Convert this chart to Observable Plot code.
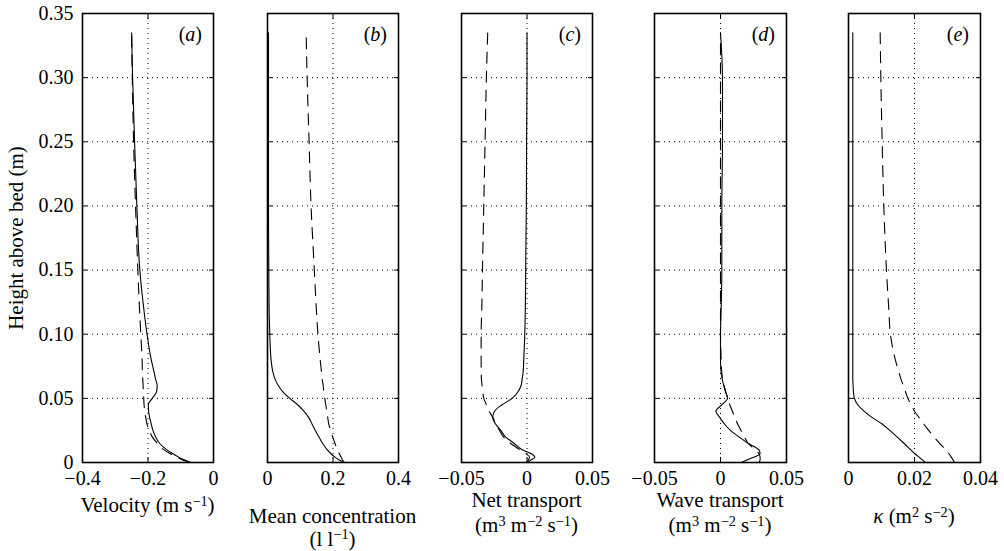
<!DOCTYPE html>
<html>
<head>
<meta charset="utf-8">
<script src="https://cdn.jsdelivr.net/npm/d3@7"></script>
<script src="https://cdn.jsdelivr.net/npm/@observablehq/plot@0.6"></script>
<style>
  html, body { margin: 0; padding: 0; background: #fff; overflow: hidden; }
  #fig { position: relative; width: 1004px; height: 551px; color: #000; }
  #fig, #fig * { font-family: "Liberation Serif", "Times New Roman", serif !important; }
  #fig svg { position: absolute; top: 0; }
  .lab { position: absolute; font-size: 21px; line-height: 21px; white-space: nowrap; }
  .sup { font-size: 0.68em; position: relative; top: -0.48em; }
</style>
</head>
<body>
<div id="fig"></div>
<script>
// Height above bed (m), shared by every profile
const height = [0, 0.002, 0.004, 0.007, 0.01, 0.015, 0.02, 0.025, 0.03, 0.035, 0.04, 0.045, 0.05,
                0.055, 0.06, 0.065, 0.07, 0.08, 0.10, 0.12, 0.15, 0.20, 0.25, 0.30, 0.335];

// (a) velocity (m/s)
const velocitySolid  = [-0.070, -0.088, -0.105, -0.125, -0.143, -0.165, -0.177, -0.185, -0.190, -0.195, -0.198, -0.199, -0.187,
                        -0.174, -0.172, -0.177, -0.181, -0.190, -0.203, -0.213, -0.225, -0.234, -0.241, -0.247, -0.250];
const velocityDashed = [-0.075, -0.094, -0.112, -0.133, -0.152, -0.172, -0.187, -0.196, -0.203, -0.207, -0.210, -0.212, -0.213,
                        -0.214, -0.215, -0.216, -0.217, -0.218, -0.222, -0.226, -0.231, -0.238, -0.244, -0.248, -0.250];
// (b) mean concentration (l/l)
const concSolid  = [0.233, 0.219, 0.207, 0.193, 0.182, 0.168, 0.157, 0.146, 0.136, 0.126, 0.111, 0.092, 0.068,
                    0.047, 0.033, 0.023, 0.017, 0.011, 0.007, 0.005, 0.004, 0.003, 0.003, 0.003, 0.003];
const concDashed = [0.235, 0.229, 0.225, 0.219, 0.213, 0.206, 0.199, 0.193, 0.187, 0.184, 0.181, 0.178, 0.175,
                    0.172, 0.170, 0.167, 0.165, 0.161, 0.154, 0.149, 0.143, 0.133, 0.127, 0.121, 0.118];
// (c) net transport
const netSolid  = [0.0005, 0.003, 0.006, 0.003, -0.0037, -0.010, -0.0164, -0.020, -0.024, -0.0262, -0.0248, -0.019, -0.0113,
                   -0.007, -0.0045, -0.0037, -0.003, -0.0025, -0.0017, -0.0013, -0.001, -0.0005, -0.0003, 0, 0];
const netDashed = [0, 0.001, 0.002, -0.001, -0.0055, -0.0126, -0.018, -0.021, -0.024, -0.026, -0.029, -0.031, -0.033,
                   -0.0337, -0.0343, -0.0348, -0.035, -0.035, -0.035, -0.0345, -0.034, -0.033, -0.032, -0.031, -0.030];
// (d) wave transport
const waveSolid  = [0.016, 0.020, 0.025, 0.030, 0.029, 0.0208, 0.014, 0.0075, 0.003, -0.0005, -0.0035, 0.001, 0.0053,
                    0.0038, 0.0025, 0.0013, 0.0005, 0, 0, 0.0005, 0.001, 0.001, 0.0015, 0.0015, 0];
const waveDashed = [0.029, 0.030, 0.030, 0.029, 0.026, 0.021, 0.018, 0.0155, 0.013, 0.011, 0.009, 0.007, 0.0055,
                    0.004, 0.0027, 0.0015, 0.001, 0.0005, 0, 0, 0, 0, 0, 0, 0];
// (e) kappa (m^2/s^2)
const kappaSolid  = [0.0233, 0.0224, 0.0215, 0.020, 0.0188, 0.0168, 0.0147, 0.0125, 0.0102, 0.0072, 0.0047, 0.0028, 0.0018,
                     0.0015, 0.0014, 0.0013, 0.0013, 0.0013, 0.0013, 0.0013, 0.0013, 0.0013, 0.0013, 0.0013, 0.0013];
const kappaDashed = [0.0321, 0.0317, 0.0312, 0.0304, 0.0294, 0.0276, 0.0259, 0.0243, 0.0228, 0.0214, 0.020, 0.019, 0.018,
                     0.0173, 0.0166, 0.0159, 0.0153, 0.0142, 0.0127, 0.0122, 0.0115, 0.0107, 0.0102, 0.0098, 0.0096];

// Tick values
const heightTicks   = [0, 0.05, 0.10, 0.15, 0.20, 0.25, 0.30, 0.35];
const velocityTicks = [-0.4, -0.2, 0];
const concTicks     = [0, 0.2, 0.4];
const netTicks      = [-0.05, 0, 0.05];
const waveTicks     = [-0.05, 0, 0.05];
const kappaTicks    = [0, 0.02, 0.04];

const panelLetters = ["a", "b", "c", "d", "e"];

const FONT = '"Liberation Serif", "Times New Roman", serif';
const fmtY = d => d === 0 ? "0" : d.toFixed(2);
const fmtX = d => d === 0 ? "0" : (d < 0 ? "\u2212" : "") + String(Math.abs(d));
const blank = () => "";

const panels = [
  {left: 82,  right: 213, ticks: velocityTicks, solid: velocitySolid, dashed: velocityDashed, first: true,
   title: [{html: 'Velocity (m s<span class="sup">\u22121</span>)', base: 513}]},
  {left: 267, right: 398, ticks: concTicks, solid: concSolid, dashed: concDashed,
   title: [{html: 'Mean concentration', base: 523.5}, {html: '(l l<span class="sup">\u22121</span>)', base: 546.5}]},
  {left: 461, right: 592, ticks: netTicks, solid: netSolid, dashed: netDashed,
   title: [{html: 'Net transport', base: 508}, {html: '(m<span class="sup">3</span> m<span class="sup">\u22122</span> s<span class="sup">\u22121</span>)', base: 533}]},
  {left: 654, right: 786, ticks: waveTicks, solid: waveSolid, dashed: waveDashed,
   title: [{html: 'Wave transport', base: 508}, {html: '(m<span class="sup">3</span> m<span class="sup">\u22122</span> s<span class="sup">\u22121</span>)', base: 533}]},
  {left: 848, right: 980, ticks: kappaTicks, solid: kappaSolid, dashed: kappaDashed,
   title: [{html: '<i>\u03ba</i> (m<span class="sup">2</span> s<span class="sup">\u22122</span>)', base: 524}]}
];

const fig = document.getElementById("fig");
const TOP = 13, BOTTOM = 462, H = 551;

function label(html, x, baseline, size, align) {
  const el = document.createElement("div");
  el.className = "lab";
  el.style.fontSize = size + "px";
  el.style.lineHeight = size + "px";
  // baseline offset within a line box of Liberation Serif
  const off = 0.891 * size - (1.107 * size - size) / 2;
  el.style.top = (baseline - off) + "px";
  el.style.left = x + "px";
  el.style.transform = align === "end" ? "translateX(-100%)" : "translateX(-50%)";
  el.innerHTML = html;
  fig.appendChild(el);
}

panels.forEach((p, i) => {
  const mL = p.first ? p.left : 40;
  const mR = 22;
  const w = p.right - p.left;
  const rows = height.map((h, k) => ({h, solid: p.solid[k], dashed: p.dashed[k]}));
  const svg = Plot.plot({
    width: mL + w + mR,
    height: H,
    marginLeft: mL,
    marginRight: mR,
    marginTop: TOP,
    marginBottom: H - BOTTOM,
    x: {domain: [p.ticks[0], p.ticks[p.ticks.length - 1]]},
    y: {domain: [0, 0.35]},
    style: {fontFamily: FONT, fontSize: "20px", color: "#000", background: "transparent", overflow: "visible"},
    marks: [
      Plot.gridX(p.ticks, {stroke: "#000", strokeOpacity: 1, strokeWidth: 1, strokeDasharray: "1,4"}),
      Plot.gridY(heightTicks, {stroke: "#000", strokeOpacity: 1, strokeWidth: 1, strokeDasharray: "1,4"}),
      Plot.line(rows, {x: "dashed", y: "h", curve: "monotone-y", stroke: "#000", strokeWidth: 1.1, strokeDasharray: "11,8"}),
      Plot.line(rows, {x: "solid", y: "h", curve: "monotone-y", stroke: "#000", strokeWidth: 1.1}),
      Plot.axisX(p.ticks, {anchor: "bottom", tickSize: -5, tickPadding: 13, tickFormat: fmtX, label: null}),
      Plot.axisX(p.ticks, {anchor: "top", tickSize: -5, tickFormat: blank, label: null}),
      Plot.axisY(heightTicks, {anchor: "left", tickSize: -5, tickFormat: p.first ? fmtY : blank, label: null}),
      Plot.axisY(heightTicks, {anchor: "right", tickSize: -5, tickFormat: blank, label: null}),
      Plot.frame({stroke: "#000", strokeWidth: 1.6})
    ]
  });
  svg.style.left = (p.left - mL) + "px";
  fig.appendChild(svg);

  const cx = (p.left + p.right) / 2;
  p.title.forEach(t => label(t.html, cx, t.base, 21, "center"));
  label('(<i>' + panelLetters[i] + '</i>)', p.right - 11, 41, 20, "end");
});

// Shared y-axis title
const yt = document.createElement("div");
yt.className = "lab";
yt.style.left = "15.5px";
yt.style.top = "237.5px";
yt.style.transform = "translate(-50%, -50%) rotate(-90deg)";
yt.textContent = "Height above bed (m)";
fig.appendChild(yt);
</script>
</body>
</html>
